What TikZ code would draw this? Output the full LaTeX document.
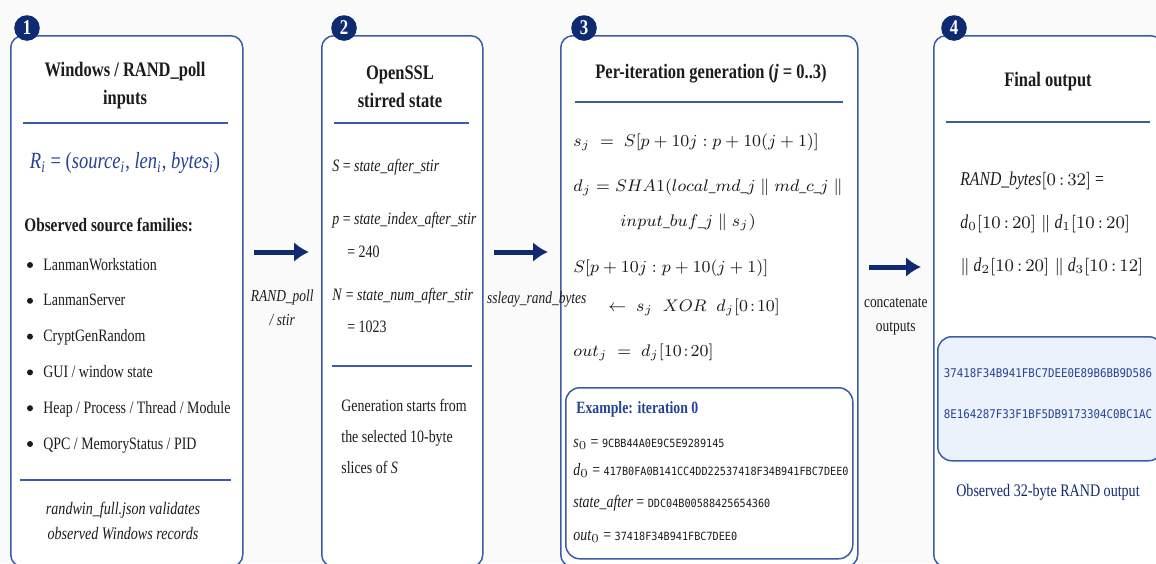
\RequirePackage{fix-cm}
\documentclass[tikz,border=0pt]{standalone}
\usepackage{amsmath}
\usepackage[no-math]{fontspec}
\setmainfont[FakeStretch=0.8]{Liberation Serif}
\newfontfamily\hexfont[FakeStretch=0.9]{DejaVu Sans Mono}
\usepackage{xcolor}
\usepackage{tikz}
\usetikzlibrary{arrows.meta}
\usetikzlibrary{positioning}
\definecolor{azulborda}{RGB}{58,92,168}
\definecolor{azulmarinho}{RGB}{14,42,112}
\definecolor{azultexto}{RGB}{36,66,150}
\definecolor{azulclaro}{RGB}{236,242,252}
\definecolor{tinta}{RGB}{28,28,28}
\definecolor{fundo}{RGB}{250,250,250}
\newcommand{\hexex}[1]{{\fontsize{5.65}{12}\selectfont\hexfont #1}}
\newcommand{\mtq}[1]{{\fontsize{8.8}{12}\selectfont$#1$}}
\tikzset{
  painel/.style={draw=azulborda, line width=0.75pt, rounded corners=6pt, fill=white, anchor=north west, inner sep=0pt},
  caixinha/.style={draw=azulborda, line width=0.75pt, rounded corners=7pt, fill=#1, anchor=north west, inner sep=0pt},
  caixinha/.default=white,
  selo/.style={circle, fill=azulmarinho, text=white, minimum size=12.8pt, inner sep=0pt, font=\fontsize{10.5}{10.5}\selectfont\bfseries},
  regua/.style={draw=azulborda, line width=0.6pt},
  seta/.style={-{Latex[length=7.5pt,width=10pt]}, line width=2.5pt, draw=azulmarinho, shorten <=5pt, shorten >=6pt},
  titulo/.style={font=\fontsize{10.3}{14}\selectfont\bfseries, align=center, text=tinta, inner sep=0pt},
  corpo/.style={font=\fontsize{8.7}{12}\selectfont, anchor=west, inner sep=0pt, text=tinta, text height=0.7em, text depth=0.2em},
  mat/.style={font=\fontsize{8.4}{12}\selectfont, anchor=west, inner sep=0pt, text=tinta, text height=0.7em, text depth=0.25em},
  saida/.style={font=\fontsize{9.8}{12}\selectfont, anchor=west, inner sep=0pt, text=tinta, text height=0.7em, text depth=0.25em},
  rotulo/.style={font=\fontsize{8.4}{12}\selectfont\itshape, align=center, text=tinta, inner sep=0pt},
  linhaex/.style={font=\fontsize{8.7}{12}\selectfont, anchor=west, inner sep=0pt, text=tinta, text height=0.7em, text depth=0.2em},
}

\begin{document}
\begin{tikzpicture}[x=0.5pt, y=-0.5pt]
  \useasboundingbox (0,0) rectangle (1156,563);
  \clip (0,0) rectangle (1156,563);
  \fill[fundo] (0,0) rectangle (1156,563);

  % quatro paineis
  \node[painel, minimum width=116pt, minimum height=265.5pt] (p1) at (10,35) {};
  \node[painel, minimum width=80.5pt, minimum height=265.5pt] (p2) at (321,35) {};
  \node[painel, minimum width=148.5pt, minimum height=265.5pt] (p3) at (560,35) {};
  \node[painel, minimum width=114.5pt, minimum height=265.5pt] (p4) at (933,35) {};
  \node[selo] (s1) at (27,28) {1};
  \node[selo] (s2) at (344,28) {2};
  \node[selo] (s3) at (584,28) {3};
  \node[selo] (s4) at (954,28) {4};

  % painel 1
  \node[titulo] (t1) at (125,86) {Windows / RAND\_poll\\inputs};
  \draw[regua] (23,123) -- (228,123);
  \node[font=\fontsize{11.6}{12}\selectfont, text=azultexto, inner sep=0pt] (r1) at (125,163)
    {\textit{R}$_{\textit{i}}$ = (\textit{source}$_{\textit{i}}$, \textit{len}$_{\textit{i}}$, \textit{bytes}$_{\textit{i}}$)};
  \node[corpo, font=\fontsize{9.55}{12}\selectfont\bfseries] (h1) at (24,226) {Observed source families:};
  \foreach \fonte [count=\k] in {LanmanWorkstation, LanmanServer, CryptGenRandom, GUI / window state,
      Heap / Process / Thread / Module, QPC / MemoryStatus / PID} {
    \node[corpo] (f\k) at (43,{265+35.8*(\k-1)}) {\fonte};
    \fill[tinta] ([xshift=-6.5pt]f\k.west) circle[radius=1.5pt];
  }
  \draw[regua] (20,480) -- (231,480);
  \node[font=\fontsize{8.8}{12.5}\selectfont\itshape, align=center, text=tinta, inner sep=0pt] (n1) at (123,521)
    {randwin\_full.json validates\\observed Windows records};

  % painel 2
  \node[titulo] (t2) at (400,87) {OpenSSL\\stirred state};
  \draw[regua] (334,123) -- (469,123);
  \node[corpo] (e1) at (332,166) {\textit{S} = \textit{state\_after\_stir}};
  \node[corpo] (e2) at (332,219) {\textit{p} = \textit{state\_index\_after\_stir}};
  \node[corpo] (e3) at (347,252) {= 240};
  \node[corpo] (e4) at (332,295) {\textit{N} = \textit{state\_num\_after\_stir}};
  \node[corpo] (e5) at (347,327) {= 1023};
  \draw[regua] (332,366) -- (472,366);
  \node[font=\fontsize{8.7}{15.5}\selectfont, align=left, anchor=west, inner sep=0pt, text=tinta] (e6) at (341,436)
    {Generation starts from\\the selected 10-byte\\slices of \textit{S}};

  % painel 3
  \node[titulo] (t3) at (711,74) {Per-iteration generation (\textit{j} = 0..3)};
  \draw[regua] (575,102) -- (843,102);
  \node[mat] (m1) at (573,142) {$s_j \;=\; S[p+10j : p+10(j+1)]$};
  \node[mat] (m2) at (573,187) {$d_j = SHA1(local\_md\_j \parallel md\_c\_j \parallel$};
  \node[mat] (m3) at (620,222) {$input\_buf\_j \parallel s_j)$};
  \node[mat] (m4) at (573,268) {$S[p+10j : p+10(j+1)]$};
  \node[mat] (m5) at (608,307) {$\leftarrow\; s_j\;\; XOR\;\; d_j[0\!:\!10]$};
  \node[mat] (m6) at (573,352) {$out_j \;=\; d_j[10\!:\!20]$};
  \node[caixinha, minimum width=143.5pt, minimum height=85.5pt] (ex) at (565,387) {};
  \node[linhaex, font=\fontsize{8.6}{12}\selectfont\bfseries, text=azultexto] (x0) at (576,408) {Example: iteration 0};
  \node[linhaex] (x1) at (573,442) {\textit{s}$_0$ = \hexex{9CBB44A0E9C5E9289145}};
  \node[linhaex] (x2) at (573,470) {\textit{d}$_0$ = \hexex{417B0FA0B141CC4DD22537418F34B941FBC7DEE0}};
  \node[linhaex] (x3) at (573,502) {\textit{state\_after} = \hexex{DDC04B00588425654360}};
  \node[linhaex] (x4) at (573,535) {\textit{out}$_0$ = \hexex{37418F34B941FBC7DEE0}};

  % painel 4
  \node[titulo] (t4) at (1048,82) {Final output};
  \draw[regua] (946,122) -- (1150,122);
  \node[saida] (q1) at (960,181) {\textit{RAND\_bytes}\mtq{[0\,{:}\,32]} =};
  \node[saida] (q2) at (960,224) {\textit{d}\mtq{_0[10\,{:}\,20] \parallel} \textit{d}\mtq{_1[10\,{:}\,20]}};
  \node[saida] (q3) at (960,267) {\mtq{\parallel} \textit{d}\mtq{_2[10\,{:}\,20] \parallel} \textit{d}\mtq{_3[10\,{:}\,12]}};
  \node[caixinha=azulclaro, minimum width=112.5pt, minimum height=62pt] (sa) at (937,336) {};
  \node[font=\fontsize{6}{12}\selectfont\hexfont, text=azultexto, inner sep=0pt] (hx1) at (1048,373) {37418F34B941FBC7DEE0E89B6BB9D586};
  \node[font=\fontsize{6}{12}\selectfont\hexfont, text=azultexto, inner sep=0pt] (hx2) at (1048,414) {8E164287F33F1BF5DB9173304C0BC1AC};
  \node[font=\fontsize{8.8}{12}\selectfont, text=azulmarinho, inner sep=0pt] (lg) at (1048,492) {Observed 32-byte RAND output};

  % setas entre paineis
  \draw[seta] (p1.east |- 0,252) -- node[rotulo, below=17.5pt] {RAND\_poll\\/ stir} (p2.west |- 0,252);
  \draw[seta] (p2.east |- 0,252) -- node[rotulo, below=18.5pt, xshift=7.5pt] {ssleay\_rand\_bytes} (p3.west |- 0,252);
  \draw[seta] (p3.east |- 0,267) -- node[rotulo, font=\fontsize{8.4}{12}\selectfont, below=14.5pt] {concatenate\\outputs} (p4.west |- 0,267);
\end{tikzpicture}
\end{document}
